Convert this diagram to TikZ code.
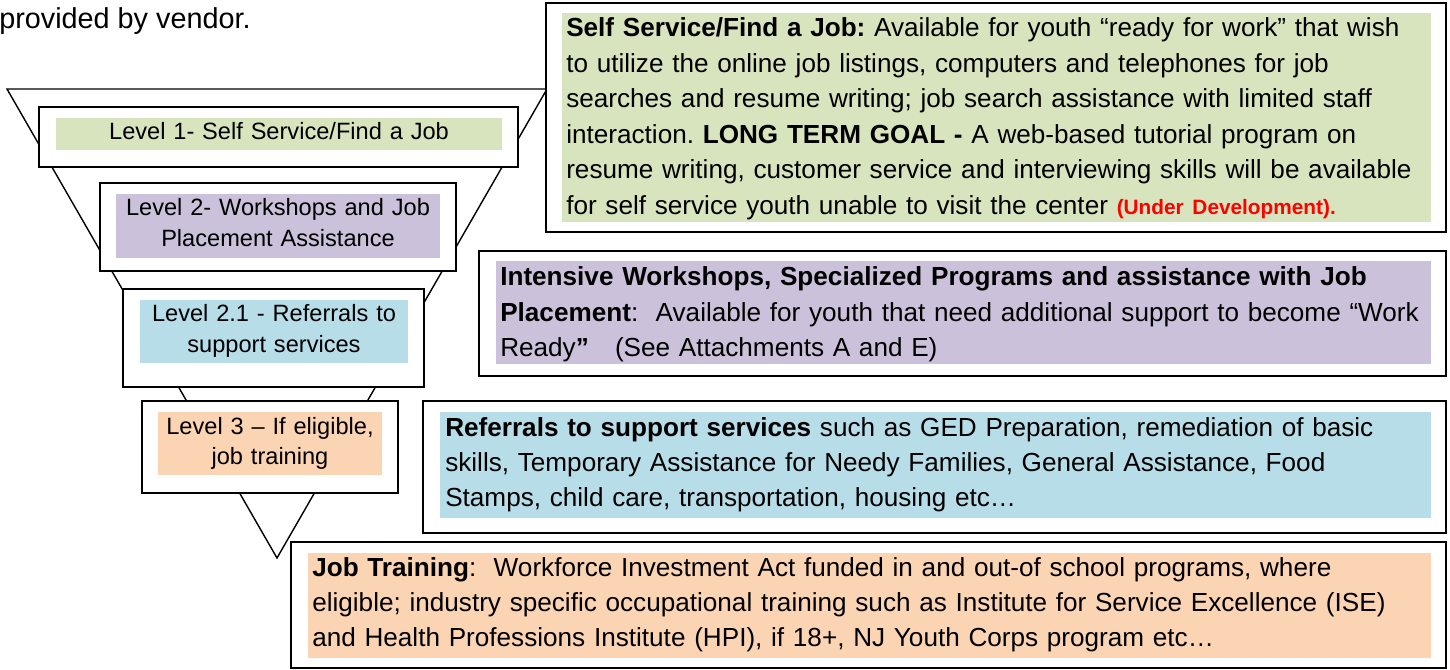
\documentclass[tikz,border=0pt]{standalone}
\usepackage{fontspec}
\setmainfont{Liberation Sans}
\usetikzlibrary{fit}
\definecolor{lvgreen}{HTML}{D7E4BD}
\definecolor{lvpurple}{HTML}{CCC1DA}
\definecolor{lvblue}{HTML}{B7DDE8}
\definecolor{lvpeach}{HTML}{FBD4B4}
\definecolor{devred}{HTML}{FF0000}
\frenchspacing

\begin{document}
\begin{tikzpicture}[x=0.75pt,y=-0.75pt,
  frame/.style={draw=black, line width=1.5pt, fill=white, inner sep=0pt},
  band/.style={draw=none, inner sep=0pt},
  funnel/.style={draw=black, line width=1.05pt, line join=miter},
  lvtext/.style={font=\fontsize{17.7pt}{23.25pt}\selectfont, align=center,
    text width=400pt, inner sep=0pt, anchor=base},
  desc/.style={font=\fontsize{19.6pt}{26.6pt}\selectfont, align=left,
    text width=830pt, inner sep=0pt, anchor=base west},
]
\useasboundingbox (0,0) rectangle (1450,670);
\fill[white] (0,0) rectangle (1450,670);

% heading fragment
\node[font=\fontsize{21.6pt}{25pt}\selectfont, inner sep=0pt, anchor=base west]
  (vendor) at (-1,29) {provided by vendor.};

% inverted funnel
\coordinate (ftl) at (7,89);
\coordinate (ftr) at (547,89);
\coordinate (fap) at (277,558);
\draw[funnel] (ftl) -- (ftr) -- (fap) -- cycle;

% funnel levels
\node[frame, fit={(39,107) (518,167)}] (l1) {};
\node[band, fill=lvgreen, fit={(56,118) (502,150)}] (l1b) {};
\node[lvtext] (l1t) at (279,140) {Level 1- Self Service/Find a Job};

\node[frame, fit={(100,183) (456,271)}] (l2) {};
\node[band, fill=lvpurple, fit={(116,194) (440,258)}] (l2b) {};
\node[lvtext] (l2t) at (278,216) {Level 2- Workshops and Job\\Placement Assistance};

\node[frame, fit={(123,289) (424,387)}] (l3) {};
\node[band, fill=lvblue, fit={(140,300) (408,363)}] (l3b) {};
\node[lvtext] (l3t) at (274,322) {Level 2.1 - Referrals to\\support services};

\node[frame, fit={(142,401) (398,493)}] (l4) {};
\node[band, fill=lvpeach, fit={(158,412) (382,475)}] (l4b) {};
\node[lvtext] (l4t) at (270,434) {Level 3 – If eligible,\\job training};

% descriptions
\node[frame, fit={(546,3) (1446,232)}] (d1) {};
\node[band, fill=lvgreen, fit={(562,13) (1431,222)}] (d1b) {};
\node[desc] (d1t) at (566,37) {\textbf{Self Service/Find a Job:} Available for youth “ready for work” that wish\\
to utilize the online job listings, computers and telephones for job\\
searches and resume writing; job search assistance with limited staff\\
interaction. \textbf{LONG TERM GOAL -} A web-based tutorial program on\\
resume writing, customer service and interviewing skills will be available\\
for self service youth unable to visit the center {\color{devred}\bfseries\fontsize{15.6pt}{26.6pt}\selectfont(Under Development).}};

\node[frame, fit={(479,251) (1446,376)}] (d2) {};
\node[band, fill=lvpurple, fit={(496,261) (1431,364)}] (d2b) {};
\node[desc] (d2t) at (500,286) {\textbf{Intensive Workshops, Specialized Programs and assistance with Job}\\
\textbf{Placement}:\ \ Available for youth that need additional support to become “Work\\
Ready\textbf{”}\ \ \ (See Attachments A and E)};

\node[frame, fit={(423,401) (1446,533)}] (d3) {};
\node[band, fill=lvblue, fit={(440,412) (1431,518)}] (d3b) {};
\node[desc] (d3t) at (445,436) {\textbf{Referrals to support services} such as GED Preparation, remediation of basic\\
skills, Temporary Assistance for Needy Families, General Assistance, Food\\
Stamps, child care, transportation, housing etc…};

\node[frame, fit={(291,542) (1446,668)}] (d4) {};
\node[band, fill=lvpeach, fit={(308,553) (1431,658)}] (d4b) {};
\node[desc] (d4t) at (312,576) {\textbf{Job Training}:\ \ Workforce Investment Act funded in and out-of school programs, where\\
eligible; industry specific occupational training such as Institute for Service Excellence (ISE)\\
and Health Professions Institute (HPI), if 18+, NJ Youth Corps program etc…};
\end{tikzpicture}
\end{document}
